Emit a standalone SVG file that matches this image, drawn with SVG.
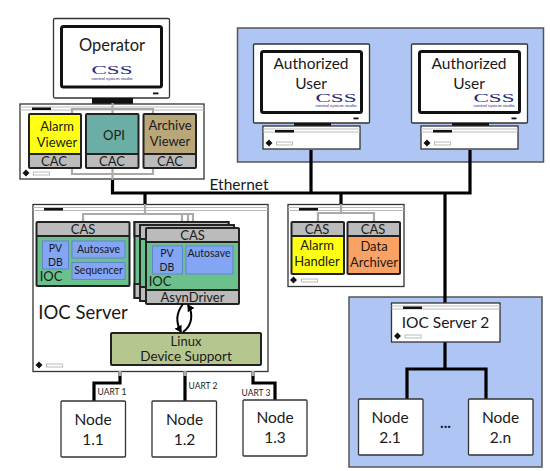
<svg xmlns="http://www.w3.org/2000/svg" width="550" height="471" viewBox="0 0 550 471">
<style>
text{font-family:Lato,"Open Sans","Liberation Sans",sans-serif;fill:#1a1a1a;text-anchor:middle}
.b{stroke:#222;stroke-width:2;stroke-linejoin:round}
.t{stroke:#333;stroke-width:1.3;fill:#fff}
.panel{fill:#afc6f4;stroke:#555;stroke-width:1.5}
.gray{fill:#bbb}.green{fill:#6cc08c}.blue{fill:#84a4f4;stroke:#5f86c8;stroke-width:1}
.eth{fill:none;stroke:#000;stroke-width:3.2}
.gl{fill:none;stroke:#aaa;stroke-width:2.2}
.f14{font-size:15.500px}.f13{font-size:13px}.f11{font-size:10.500px}.f17{font-size:16.500px}
.logo{font-family:"Liberation Serif",serif;font-size:13px;fill:#2a2a80}
.logos{font-size:3.400px;fill:#2a2a80}
.u{font-size:8.500px}
</style>
<defs>
<marker id="ah" markerWidth="7" markerHeight="8" refX="6" refY="4" orient="auto" markerUnits="userSpaceOnUse"><path d="M0 0L7 4L0 8Z" fill="#000"/></marker>
</defs>
<rect class="panel" x="237.500" y="28" width="306" height="134"/>
<rect class="panel" x="349" y="297" width="193" height="170"/>
<g id="connectors">
<path class="eth" d="M112.500 178V193H470V150M311 150V193M145 193V205M341 193V205M445 193V304"/>
<path class="eth" d="M445 341V369M407 400V369H486V400"/>
<path class="eth" d="M120 372V383H94V401M185 372V401M253 372V383H275V401"/>
</g>
<g id="operator-monitor">
<rect class="t" x="53.500" y="18.500" width="116" height="79.500" rx="1.500"/>
<rect x="61.500" y="26.500" width="100" height="60.500" rx="2" fill="#fff" stroke="#111" stroke-width="3"/>
<rect x="153" y="92.500" width="5.500" height="1.800" fill="#111"/>
<rect x="92" y="98" width="41" height="6" fill="#111"/>
<text class="f17" x="112" y="51">Operator</text>
<text class="logo" x="112" y="74" textLength="41" lengthAdjust="spacingAndGlyphs">CSS</text>
<text class="logos" x="112" y="79.500" textLength="41" lengthAdjust="spacingAndGlyphs">control system studio</text>
</g>
<g id="operator-computer">
<rect class="t" x="20" y="104" width="184" height="75"/>
<path d="M20 107H204M20 110H204" stroke="#bbb" stroke-width="1"/>
<rect x="32" y="107.500" width="19" height="2.500" fill="#111"/>
<path d="M26 169.500l3.500 3.500l-3.500 3.500l-3.500-3.500z" fill="#111"/>
<rect x="33.500" y="172" width="16" height="3" fill="#fff" stroke="#aaa" stroke-width="0.800"/>
<path class="gl" d="M112.500 103V180M72 114V109H153V114M72 167V174H153V167"/>
</g>
<g id="alarm-viewer">
<rect x="29" y="114" width="52" height="40" fill="#ffff14"/><rect class="gray" x="29" y="154" width="52" height="14"/>
<rect class="b" x="29" y="114" width="52" height="54" fill="none" rx="1"/><path class="b" d="M29 154H81"/>
<text class="f13" x="57" y="131">Alarm</text><text class="f13" x="57" y="147">Viewer</text><text class="f13" x="54" y="166">CAC</text>
</g>
<g id="opi">
<rect x="86" y="114" width="52.500" height="40" fill="#6aaea5"/><rect class="gray" x="86" y="154" width="52.500" height="14"/>
<rect class="b" x="86" y="114" width="52.500" height="54" fill="none" rx="1"/><path class="b" d="M86 154H138.500"/>
<text class="f13" x="114" y="140">OPI</text><text class="f13" x="112" y="165.500">CAC</text>
</g>
<g id="archive-viewer">
<rect x="143.500" y="114" width="52.500" height="40" fill="#b9a77a"/><rect class="gray" x="143.500" y="154" width="52.500" height="14"/>
<rect class="b" x="143.500" y="114" width="52.500" height="54" fill="none" rx="1"/><path class="b" d="M143.500 154H196"/>
<text class="f13" x="170" y="130">Archive</text><text class="f13" x="170" y="146">Viewer</text><text class="f13" x="170" y="166">CAC</text>
</g>
<text id="ethernet" class="f14" x="239" y="190">Ethernet</text>
<g id="user-1">
<rect class="t" x="253.500" y="44" width="116" height="79" rx="1"/>
<rect x="261.500" y="51.500" width="100" height="61" rx="2" fill="#fff" stroke="#111" stroke-width="3"/>
<rect x="353.500" y="117.500" width="5" height="1.800" fill="#111"/>
<rect x="294" y="123" width="37" height="3" fill="#111"/>
<rect class="t" x="263" y="126" width="97" height="23"/>
<path d="M263 129H360M263 132H360" stroke="#bbb" stroke-width="1"/>
<rect x="275" y="130" width="19" height="2.500" fill="#111"/>
<path d="M269 139.500l3.500 3.500l-3.500 3.500l-3.500-3.500z" fill="#111"/>
<rect x="276.500" y="142" width="16" height="3" fill="#fff" stroke="#aaa" stroke-width="0.800"/>
<text class="f14" x="311" y="69">Authorized</text><text class="f14" x="311" y="89">User</text>
<text class="logo" x="336" y="101.500" textLength="41" lengthAdjust="spacingAndGlyphs">CSS</text>
<text class="logos" x="336" y="107" textLength="41" lengthAdjust="spacingAndGlyphs">control system studio</text>
</g>
<g id="user-2">
<rect class="t" x="411.500" y="44" width="116" height="79" rx="1"/>
<rect x="419.500" y="51.500" width="100" height="61" rx="2" fill="#fff" stroke="#111" stroke-width="3"/>
<rect x="511.500" y="117.500" width="5" height="1.800" fill="#111"/>
<rect x="452" y="123" width="37" height="3" fill="#111"/>
<rect class="t" x="421" y="126" width="97" height="23"/>
<path d="M421 129H518M421 132H518" stroke="#bbb" stroke-width="1"/>
<rect x="433" y="130" width="19" height="2.500" fill="#111"/>
<path d="M427 139.500l3.500 3.500l-3.500 3.500l-3.500-3.500z" fill="#111"/>
<rect x="434.500" y="142" width="16" height="3" fill="#fff" stroke="#aaa" stroke-width="0.800"/>
<text class="f14" x="469" y="69">Authorized</text><text class="f14" x="469" y="89">User</text>
<text class="logo" x="494" y="101.500" textLength="41" lengthAdjust="spacingAndGlyphs">CSS</text>
<text class="logos" x="494" y="107" textLength="41" lengthAdjust="spacingAndGlyphs">control system studio</text>
</g>
<g id="ioc-server">
<rect class="t" x="33" y="204.500" width="235" height="167"/>
<path d="M33 207.500H268M33 210.500H268" stroke="#bbb" stroke-width="1"/>
<rect x="44" y="208" width="19" height="2.500" fill="#111"/>
<path d="M39 361.500l3.500 3.500l-3.500 3.500l-3.500-3.500z" fill="#111"/>
<rect x="46.500" y="364" width="16" height="3" fill="#fff" stroke="#aaa" stroke-width="0.800"/>
<path class="gl" d="M145 204V214M83 222V214H193V228M182 214V224M188 214V226"/>
<text x="83" y="319" font-size="18.500">IOC Server</text>
</g>
<g id="ioc-1">
<rect x="36.500" y="222" width="93" height="14" class="gray"/><rect x="36.500" y="236" width="93" height="50" class="green"/>
<rect class="b" x="36.500" y="222" width="93" height="64" fill="none" rx="1"/><path class="b" d="M36.500 236H129.500"/>
<rect class="blue" x="42.500" y="241" width="26" height="28"/><rect class="blue" x="72" y="241" width="53" height="17"/><rect class="blue" x="72" y="262.500" width="53" height="17"/>
<text class="f13" x="83" y="234">CAS</text><text class="f11" x="55.500" y="252">PV</text><text class="f11" x="55.500" y="266">DB</text>
<text class="f11" x="98.500" y="252.500">Autosave</text><text class="f11" x="98.500" y="273.500">Sequencer</text><text class="f13" x="51" y="281">IOC</text>
</g>
<g id="ioc-stack">
<rect x="134.500" y="222" width="94" height="76" class="green" stroke="#222" stroke-width="2"/><rect class="gray" x="134.500" y="222" width="94" height="14" stroke="#222" stroke-width="2"/><rect class="gray" x="134.500" y="284" width="94" height="14" stroke="#222" stroke-width="2"/>
<rect x="140" y="225" width="94" height="76" class="green" stroke="#222" stroke-width="2"/><rect class="gray" x="140" y="225" width="94" height="14" stroke="#222" stroke-width="2"/><rect class="gray" x="140" y="287" width="94" height="14" stroke="#222" stroke-width="2"/>
<rect x="146" y="228" width="93" height="62" class="green"/><rect x="146" y="228" width="93" height="14" class="gray"/><rect x="146" y="290" width="93" height="14" class="gray"/>
<rect class="b" x="146" y="228" width="93" height="76" fill="none" rx="1"/><path class="b" d="M146 242H239M146 290H239"/>
<rect class="blue" x="152.500" y="246" width="30" height="28"/><rect class="blue" x="186" y="246" width="47" height="28"/>
<text class="f13" x="192.500" y="240">CAS</text><text class="f11" x="167" y="257">PV</text><text class="f11" x="167" y="271">DB</text><text class="f11" x="209" y="257">Autosave</text><text class="f13" x="160" y="286">IOC</text><text class="f13" x="192.500" y="302">AsynDriver</text>
</g>
<g id="linux-support">
<rect class="b" x="111" y="333" width="150" height="32" fill="#b6c68f" rx="1"/>
<text class="f13" x="186" y="345.500">Linux</text><text class="f13" x="186" y="361" style="font-size:13.500px">Device Support</text>
</g>
<g id="sync-arrows" fill="none" stroke="#000" stroke-width="2">
<path d="M183 304C176 313 176 323 181 332" marker-end="url(#ah)"/>
<path d="M183 332C193 325 193 313 188 305" marker-end="url(#ah)"/>
</g>
<g id="uart-stubs" fill="none" stroke="#aaa" stroke-width="3.200"><path d="M120 371V376M185 371V376M253 371V376"/></g>
<g id="alarm-server">
<rect class="t" x="288" y="204.500" width="116" height="82"/>
<path d="M288 207.500H404M288 210.500H404" stroke="#bbb" stroke-width="1"/>
<rect x="299" y="208" width="19" height="2.500" fill="#111"/>
<path d="M293.500 276.500l3.500 3.500l-3.500 3.500l-3.500-3.500z" fill="#111"/>
<rect x="301.500" y="279" width="16" height="3" fill="#fff" stroke="#aaa" stroke-width="0.800"/>
<path class="gl" d="M341 204V213M318 222V213H374V222"/>
<rect x="291.500" y="222" width="52.500" height="14" class="gray"/><rect x="291.500" y="236" width="52.500" height="38" fill="#ffff14"/>
<rect class="b" x="291.500" y="222" width="52.500" height="52" fill="none" rx="1"/><path class="b" d="M291.500 236H344"/>
<rect x="347.500" y="222" width="52.500" height="14" class="gray"/><rect x="347.500" y="236" width="52.500" height="38" fill="#f9a263"/>
<rect class="b" x="347.500" y="222" width="52.500" height="52" fill="none" rx="1"/><path class="b" d="M347.500 236H400"/>
<text class="f13" x="317" y="234">CAS</text><text class="f13" x="373" y="234">CAS</text>
<text class="f13" x="317" y="250">Alarm</text><text class="f13" x="317" y="266">Handler</text>
<text class="f13" x="374" y="251">Data</text><text class="f13" x="374" y="267">Archiver</text>
</g>
<g id="ioc-server-2">
<rect class="t" x="391.500" y="303" width="108.500" height="39"/>
<path d="M391.500 306H500M391.500 309H500" stroke="#bbb" stroke-width="1"/>
<rect x="403" y="306.500" width="19" height="2.500" fill="#111"/>
<path d="M397.500 332.500l3.500 3.500l-3.500 3.500l-3.500-3.500z" fill="#111"/>
<rect x="405" y="335" width="16" height="3" fill="#fff" stroke="#aaa" stroke-width="0.800"/>
<text class="f14" x="445.500" y="328">IOC Server 2</text>
</g>
<g id="node-1-1"><rect class="t" x="61" y="401" width="64.500" height="56" rx="1"/><text class="f14" x="93" y="425">Node</text><text class="f14" x="93" y="445">1.1</text></g>
<g id="node-1-2"><rect class="t" x="152" y="401" width="64.500" height="56" rx="1"/><text class="f14" x="184.500" y="425">Node</text><text class="f14" x="184.500" y="445">1.2</text></g>
<g id="node-1-3"><rect class="t" x="243" y="400" width="64" height="56" rx="1"/><text class="f14" x="275" y="423">Node</text><text class="f14" x="275" y="443">1.3</text></g>
<g id="node-2-1"><rect class="t" x="358.500" y="399" width="64.500" height="56" rx="1"/><text class="f14" x="390" y="423">Node</text><text class="f14" x="390" y="443">2.1</text></g>
<g id="node-2-n"><rect class="t" x="468.500" y="399" width="64.500" height="56" rx="1"/><text class="f14" x="500.500" y="423">Node</text><text class="f14" x="500.500" y="443">2.n</text></g>
<text class="f14" x="445.500" y="428" font-weight="bold">...</text>
<text class="u" x="112" y="395">UART 1</text><text class="u" x="203" y="389">UART 2</text><text class="u" x="256" y="396">UART 3</text>
</svg>
